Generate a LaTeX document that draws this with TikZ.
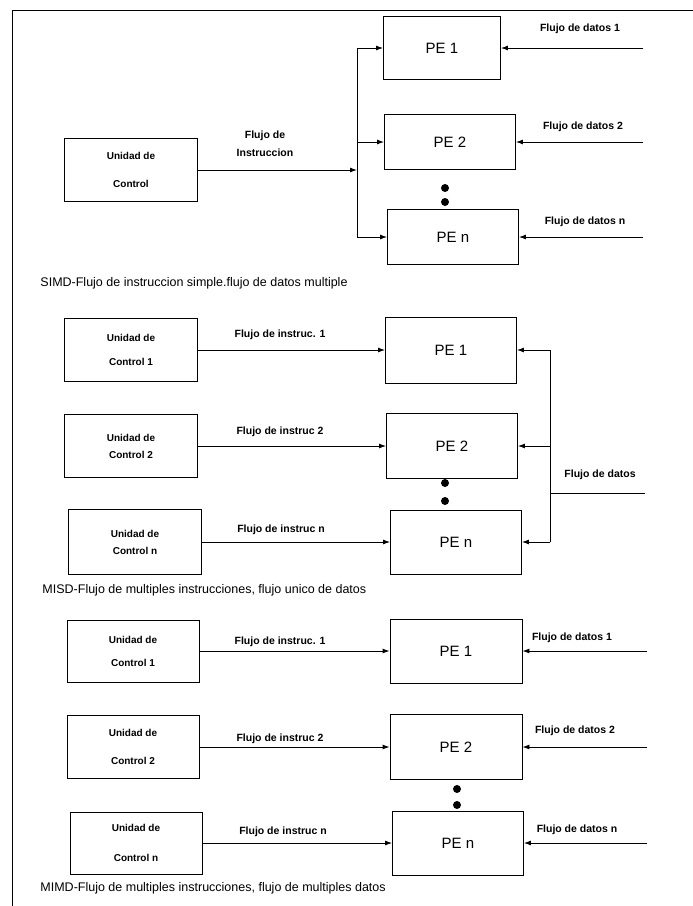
\documentclass[tikz,border=0pt]{standalone}
\usepackage{fontspec}
\setmainfont{Liberation Sans}
\usetikzlibrary{arrows.meta}
\begin{document}
\begin{tikzpicture}[x=1pt,y=-1pt, line width=0.9pt,
  every node/.style={font=\fontsize{10}{12}\selectfont\bfseries},
  cubox/.style={draw,minimum width=133pt,minimum height=63pt,align=center},
  pebox/.style={draw,minimum width=131pt,minimum height=64pt,font=\fontsize{15}{17}\selectfont},
  lbl/.style={font=\fontsize{10.5}{12}\selectfont\bfseries,inner sep=0pt},
  captxt/.style={anchor=west,inner sep=0pt,font=\fontsize{12.5}{14}\selectfont},
  flow/.style={-{Latex[length=7pt,width=5pt]}}]
\useasboundingbox (0,0) rectangle (693,906);
\draw (12,906) -- (12,10) -- (693,10);
% SIMD
\node[cubox] (cu) at (131,170) {Unidad de\\[16pt]Control};
\node[pebox,minimum width=117pt,minimum height=63pt] (pe1) at (442,48) {PE 1};
\node[pebox,minimum height=55pt] (pe2) at (450,142) {PE 2};
\node[pebox,minimum height=55pt] (pen) at (453,237) {PE n};
\coordinate (j) at (357,170);
\draw[flow] (cu) -- (j);
\draw (j |- pe1) -- (j |- pen);
\draw[flow] (j |- pe1) -- (pe1);
\draw[flow] (j |- pe2) -- (pe2);
\draw[flow] (j |- pen) -- (pen);
\node[lbl,align=center] (fi) at (265,144) {Flujo de\\[6pt]Instruccion};
\coordinate (d1) at (643,48);
\coordinate (d2) at (643,142);
\coordinate (dn) at (643,237);
\draw[flow] (d1) -- (pe1);
\draw[flow] (d2) -- (pe2);
\draw[flow] (dn) -- (pen);
\node[lbl] (fd1) at (580,29) {Flujo de datos 1};
\node[lbl] (fd2) at (583,127) {Flujo de datos 2};
\node[lbl] (fdn) at (585,222) {Flujo de datos n};
\fill (445,188) circle (4) (445,202) circle (4);
\node[captxt] (simd) at (40,283) {SIMD-Flujo de instruccion simple.flujo de datos multiple};
% MISD
\node[cubox] (cua) at (131,350) {Unidad de\\[12pt]Control 1};
\node[cubox] (cub) at (131,446) {Unidad de\\[5pt]Control 2};
\node[cubox,minimum height=65pt] (cuc) at (135,542) {Unidad de\\[5pt]Control n};
\node[pebox,minimum height=66pt] (pea) at (451,350) {PE 1};
\node[pebox,minimum height=65pt] (peb) at (452,446) {PE 2};
\node[pebox] (pec) at (456,542) {PE n};
\draw[flow] (cua) -- (pea);
\draw[flow] (cub) -- (peb);
\draw[flow] (cuc) -- (pec);
\node[lbl] (fia) at (280,335) {Flujo de instruc. 1};
\node[lbl] (fib) at (280,432) {Flujo de instruc 2};
\node[lbl] (fic) at (281,530) {Flujo de instruc n};
\coordinate (b) at (550,493);
\coordinate (din) at (645,493);
\draw (din) -- (b);
\draw (b |- pea) -- (b |- pec);
\draw[flow] (b |- pea) -- (pea);
\draw[flow] (b |- peb) -- (peb);
\draw[flow] (b |- pec) -- (pec);
\node[lbl] (fd) at (600,475) {Flujo de datos};
\fill (445,483) circle (4) (445,501) circle (4);
\node[captxt] (misd) at (42,590) {MISD-Flujo de multiples instrucciones, flujo unico de datos};
% MIMD
\node[cubox,minimum width=132pt,minimum height=62pt] (cux) at (133,651) {Unidad de\\[11pt]Control 1};
\node[cubox,minimum width=132pt] (cuy) at (133,747) {Unidad de\\[16pt]Control 2};
\node[cubox,minimum width=132pt,minimum height=62pt] (cuz) at (136,843) {Unidad de\\[18pt]Control n};
\node[pebox,minimum width=132pt] (pex) at (456,651) {PE 1};
\node[pebox,minimum width=132pt,minimum height=65pt] (pey) at (456,747) {PE 2};
\node[pebox] (pez) at (458,843) {PE n};
\draw[flow] (cux) -- (pex);
\draw[flow] (cuy) -- (pey);
\draw[flow] (cuz) -- (pez);
\node[lbl] (fix) at (280,642) {Flujo de instruc. 1};
\node[lbl] (fiy) at (280,739) {Flujo de instruc 2};
\node[lbl] (fiz) at (283,832) {Flujo de instruc n};
\coordinate (dx) at (647,651);
\coordinate (dy) at (647,747);
\coordinate (dz) at (647,843);
\draw[flow] (dx) -- (pex);
\draw[flow] (dy) -- (pey);
\draw[flow] (dz) -- (pez);
\node[lbl] (fdx) at (572,638) {Flujo de datos 1};
\node[lbl] (fdy) at (575,731) {Flujo de datos 2};
\node[lbl] (fdz) at (577,830) {Flujo de datos n};
\fill (457,789) circle (4) (457,805) circle (4);
\node[captxt] (mimd) at (40,888) {MIMD-Flujo de multiples instrucciones, flujo de multiples datos};
\end{tikzpicture}
\end{document}
